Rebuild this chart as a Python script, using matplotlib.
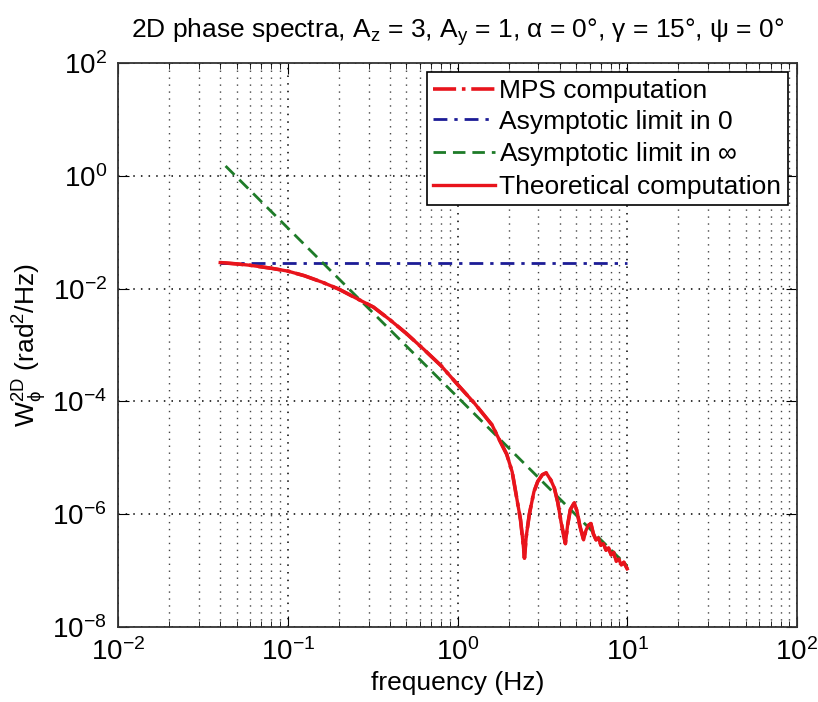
import matplotlib
matplotlib.use('Agg')
import matplotlib.pyplot as plt
import numpy as np
from matplotlib.ticker import LogLocator, LogFormatterMathtext, NullFormatter

plt.rcParams['font.family'] = ['Liberation Sans', 'DejaVu Sans']
plt.rcParams['mathtext.fontset'] = 'custom'
plt.rcParams['mathtext.rm'] = 'Liberation Sans'
plt.rcParams['mathtext.it'] = 'Liberation Sans'
plt.rcParams['mathtext.sf'] = 'Liberation Sans'

# theoretical / MPS spectrum
freq = [0.040, 0.050, 0.060, 0.080, 0.10, 0.125, 0.16, 0.20, 0.25, 0.32,
        0.40, 0.50, 0.63, 0.80, 1.0, 1.25, 1.6, 1.7, 1.95, 2.1,
        2.2, 2.35, 2.43, 2.48, 2.54, 2.65, 2.82, 2.97, 3.16, 3.33,
        3.55, 3.72, 3.9, 4.07, 4.32, 4.45, 4.62, 4.88, 5.07, 5.25,
        5.53, 5.69, 5.89, 6.11, 6.31, 6.55, 6.76, 7.0, 7.24, 7.5,
        7.76, 8.04, 8.32, 8.61, 8.91, 9.23, 9.55, 10.0]
psd = [2.9e-2, 2.75e-2, 2.6e-2, 2.3e-2, 2.05e-2, 1.7e-2, 1.3e-2, 9.8e-3, 6.9e-3, 4.7e-3,
       2.8e-3, 1.6e-3, 8.5e-4, 4.3e-4, 2.0e-4, 9.5e-5, 3.8e-5, 2.6e-5, 1.15e-5, 5.6e-6,
       2.5e-6, 8e-7, 3.2e-7, 1.66e-7, 4e-7, 1e-6, 2.5e-6, 3.8e-6, 5e-6, 5.4e-6,
       4e-6, 2.9e-6, 1.6e-6, 7.4e-7, 3e-7, 6.3e-7, 1.2e-6, 1.6e-6, 1.1e-6, 6.3e-7,
       3.5e-7, 5e-7, 6.3e-7, 6.8e-7, 4.5e-7, 3.5e-7, 3.8e-7, 2.8e-7, 3e-7, 2.3e-7,
       2.5e-7, 1.9e-7, 2.1e-7, 1.45e-7, 1.6e-7, 1.25e-7, 1.4e-7, 1.07e-7]

# asymptotes
f_low = [0.040, 10.0]
w_low = [2.9e-2, 2.9e-2]
f_high = [0.043, 10.0]
w_high = [1.5, 1.2e-7]

fig = plt.figure(figsize=(8.18, 7.02), dpi=100)
ax = fig.add_axes([0.1443, 0.107, 0.830, 0.803])

ax.loglog(freq, psd, color='#e8141c', linestyle='-.', linewidth=2.6, label='MPS computation')
ax.loglog(f_low, w_low, color='#1c1c96', linestyle=(0, (5, 2.5, 1.2, 2.5)), linewidth=2.0,
          label='Asymptotic limit in 0')
ax.loglog(f_high, w_high, color='#1e7b28', linestyle=(0, (4.5, 2.5)), linewidth=2.0,
          label=r'Asymptotic limit in $\infty$')
ax.loglog(freq, psd, color='#e8141c', linestyle='-', linewidth=2.4,
          label='Theoretical computation')

ax.set_xlim(1e-2, 1e2)
ax.set_ylim(1e-8, 1e2)
ax.xaxis.set_major_locator(LogLocator(base=10, numticks=10))
ax.xaxis.set_minor_locator(LogLocator(base=10, subs=np.arange(2, 10), numticks=20))
ax.xaxis.set_minor_formatter(NullFormatter())
ax.set_yticks([1e-8, 1e-6, 1e-4, 1e-2, 1e0, 1e2])
ax.yaxis.set_minor_locator(matplotlib.ticker.NullLocator())
ax.xaxis.set_major_formatter(LogFormatterMathtext())
ax.yaxis.set_major_formatter(LogFormatterMathtext())

ax.grid(True, which='major', linestyle=(0, (1, 4)), color='black', linewidth=1.1)
ax.grid(True, which='minor', axis='x', linestyle=(0, (1, 4)), color='#444444', linewidth=1.0)
ax.tick_params(which='both', direction='in', top=True, right=True, labelsize=20)
ax.tick_params(which='major', length=8, pad=8)
ax.tick_params(which='minor', length=4)
for s in ax.spines.values():
    s.set_linewidth(1.3)
    s.set_color('#333333')

ax.set_title(r'2D phase spectra, A$_{\rm z}$ = 3, A$_{\rm y}$ = 1, $\alpha$ = 0°, $\gamma$ = 15°, $\psi$ = 0°',
             fontsize=19, pad=18)
ax.set_xlabel('frequency (Hz)', fontsize=19, labelpad=4)
ax.set_ylabel(r'W$_\phi^{\rm 2D}$ (rad$^2$/Hz)', fontsize=19, labelpad=2)

leg = ax.legend(loc='upper right', fontsize=19, handlelength=2.35, fancybox=False,
                framealpha=1, edgecolor='black', borderaxespad=0.35,
                handletextpad=0.15, labelspacing=0.25, borderpad=0.25)
leg.get_frame().set_linewidth(1.2)

fig.savefig('out.png', dpi=100, facecolor='white')
